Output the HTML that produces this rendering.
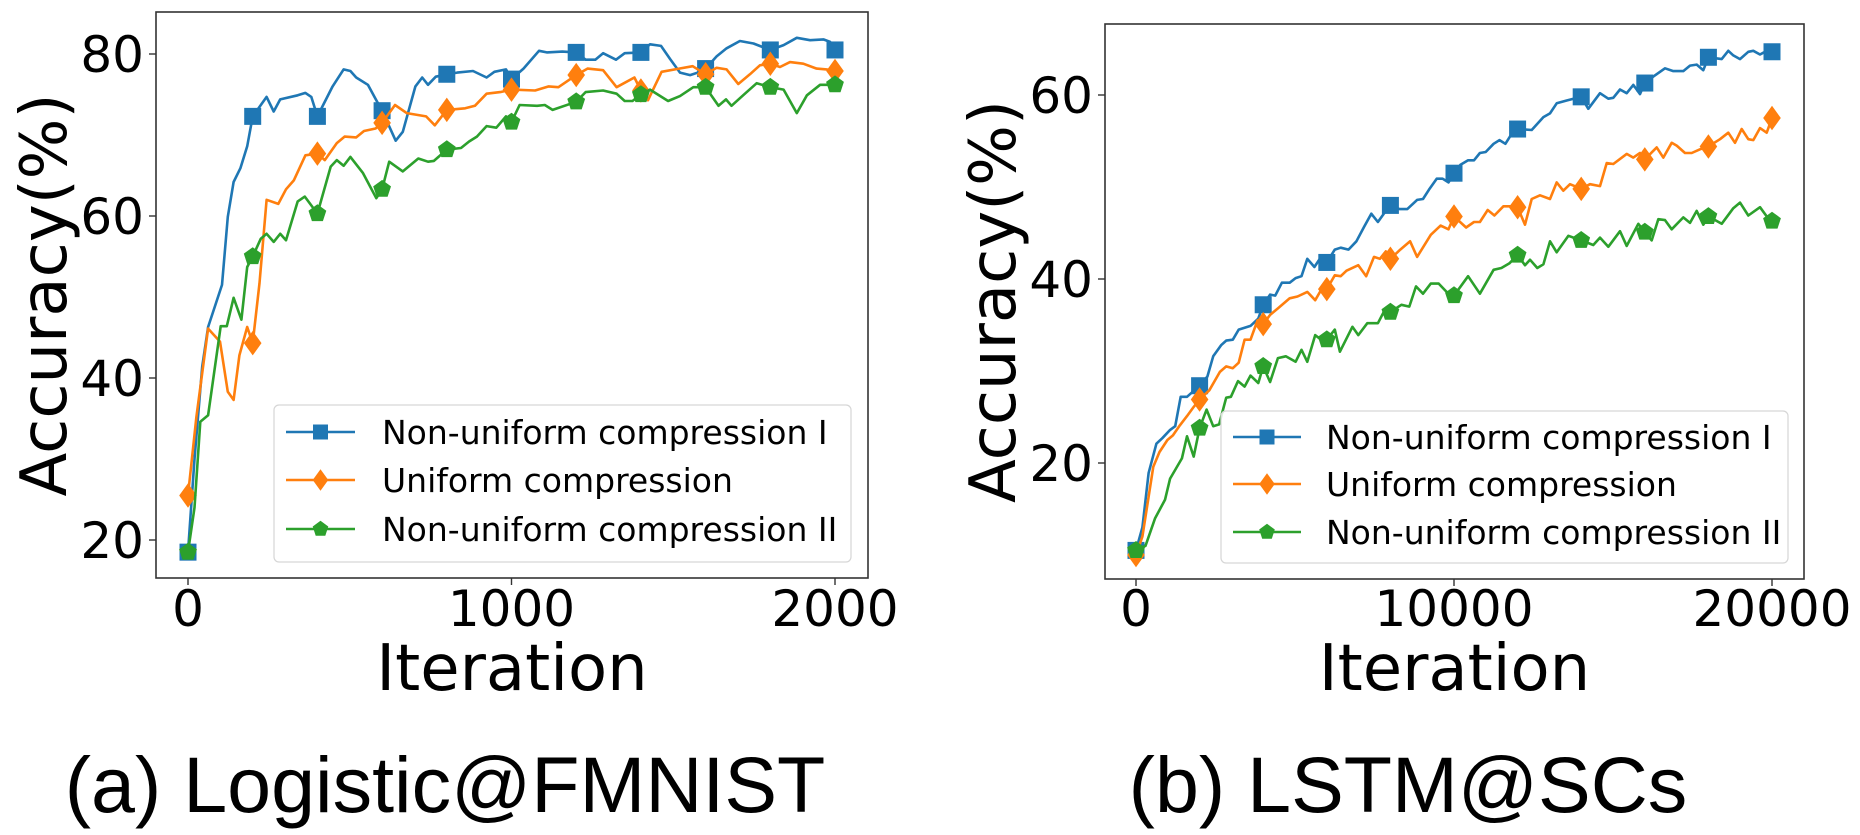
<!DOCTYPE html>
<html><head><meta charset="utf-8"><style>
html,body{margin:0;padding:0;background:#fff;width:1860px;height:835px;overflow:hidden}
svg text{font-family:"DejaVu Sans","Liberation Sans",sans-serif;fill:#000}
</style></head><body>
<svg id="fig" width="1860" height="835" viewBox="0 0 1860 835" xmlns="http://www.w3.org/2000/svg">
<text x="445" y="812" font-size="79" text-anchor="middle" style="font-family:'Liberation Sans',sans-serif">(a) Logistic@FMNIST</text>
<text x="1408" y="812" font-size="79" text-anchor="middle" style="font-family:'Liberation Sans',sans-serif">(b) LSTM@SCs</text>
</svg>
<script>
// ---- Left chart data (Logistic@FMNIST) ----
const leftXTicks = [0, 1000, 2000];
const leftYTicks = [20, 40, 60, 80];
const leftBlue = [[0,18.5],[20,30],[44,41.4],[62,46.3],[105,51.5],[123,59.9],[141,64.2],[162,65.9],[183,68.6],[200,72.3],[243,74.7],[265,72.9],[285,74.4],[339,74.9],[363,75.2],[381,74.7],[400,72.3],[447,76],[481,78.1],[502,77.9],[520,77.1],[556,76.2],[582,74.3],[600,73],[642,69.3],[664,70.4],[703,76],[724,77.1],[742,76.2],[766,77.2],[800,77.5],[832,77.7],[881,77.9],[923,77.1],[947,77.8],[983,78.1],[1000,76.9],[1037,78.2],[1085,80.4],[1109,80.2],[1157,80.3],[1200,80.2],[1229,79.3],[1259,79.3],[1283,80.1],[1323,79.3],[1350,80.1],[1400,80.2],[1428,81.2],[1462,81],[1490,79.4],[1521,77.7],[1552,77.4],[1583,77.8],[1600,78.2],[1634,79.7],[1665,80.7],[1706,81.6],[1748,81.3],[1800,80.5],[1841,81.1],[1882,82],[1923,81.7],[1964,81.8],[1985,81.5],[2000,80.5]];
const leftOrange = [[0,25.5],[26,35.2],[62,46.1],[99,44.5],[123,38.3],[141,37.3],[159,42.8],[183,46.3],[200,44.3],[221,51.7],[243,62],[279,61.5],[303,63.3],[327,64.4],[363,67.5],[400,67.7],[423,66.9],[460,69],[484,69.8],[520,69.7],[544,70.5],[580,70.8],[600,71.5],[640,73.7],[676,72.7],[736,72.3],[763,71.2],[800,73.1],[857,73.3],[887,73.6],[923,75.1],[965,75.3],[1000,75.6],[1073,75.5],[1115,76],[1145,75.9],[1200,77.4],[1235,78.2],[1283,78],[1325,75.9],[1380,77.1],[1400,75.5],[1422,74.3],[1464,77.8],[1518,78.2],[1560,78.5],[1600,77.5],[1634,78.3],[1665,78.1],[1701,76.3],[1737,77.5],[1768,78.6],[1800,78.8],[1830,78.4],[1861,79],[1902,78.8],[1943,78.2],[1974,78.1],[2000,77.9]];
const leftGreen = [[0,18.5],[20,24],[38,34.6],[62,35.4],[101,46.4],[120,46.4],[141,49.9],[165,47.2],[183,53.7],[200,55],[225,57.2],[243,57.8],[265,56.8],[285,57.8],[303,57],[339,61.8],[361,62.4],[400,60.3],[441,66.1],[460,66.9],[481,66.2],[502,67.3],[541,65.3],[582,62.2],[600,63.3],[622,66.7],[664,65.5],[712,67.1],[742,66.7],[760,66.8],[800,68.2],[844,68.4],[869,69.2],[893,69.8],[923,71.1],[953,70.9],[983,72.3],[1000,71.6],[1025,73.7],[1079,73.6],[1103,73.7],[1127,73.1],[1200,74.1],[1229,75.3],[1283,75.5],[1325,75.1],[1350,74.2],[1374,74.2],[1400,75],[1428,75.6],[1484,74.2],[1521,74.8],[1562,75.9],[1600,75.9],[1640,73.6],[1663,74.4],[1680,73.6],[1716,74.9],[1758,76.4],[1800,75.9],[1841,75.6],[1882,72.7],[1913,74.9],[1954,76.2],[2000,76.2]];
// ---- Right chart data (LSTM@SCs) ----
const rightXTicks = [0, 10000, 20000];
const rightYTicks = [20, 40, 60];
const rightBlue = [[0,10.5],[200,13],[395,18.9],[641,22.1],[826,22.7],[1073,23.6],[1233,24],[1406,27.2],[1603,27.2],[2000,28.4],[2244,29.4],[2429,31.6],[2676,32.8],[2836,33.3],[3045,33.4],[3230,34.5],[3600,34.9],[3847,35.7],[4000,37.2],[4217,38.3],[4377,38.2],[4587,39.6],[4833,39.6],[5018,40.1],[5203,40.3],[5388,42.2],[5610,41.3],[5820,42.4],[6000,41.8],[6251,43.2],[6436,43.4],[6683,43.2],[6930,44.1],[7176,45.7],[7398,47.1],[7608,46.2],[7793,47.1],[8000,48],[8286,47.6],[8532,47.6],[8840,48.6],[9025,48.7],[9211,49.7],[9457,50.9],[9642,50.9],[9827,50.5],[10000,51.5],[10197,52.4],[10444,52.9],[10629,52.9],[10813,53.7],[10998,53.8],[11245,54.7],[11430,55.1],[11615,54.7],[11800,55.7],[12000,56.3],[12443,56.2],[12810,57.6],[13019,58],[13229,59.1],[13543,59.4],[14000,59.8],[14224,58.5],[14591,60.2],[14853,59.6],[15010,59.7],[15220,60.6],[15430,60.2],[15639,61.1],[15849,60.1],[16000,61.3],[16268,62],[16635,62.9],[16897,62.6],[17212,62.6],[17421,63.2],[17631,63.3],[17841,62.7],[18000,64.1],[18417,63.9],[18627,64.8],[18784,64.3],[18994,63.9],[19256,64.7],[19413,64.8],[19623,64.4],[19780,64.7],[20000,64.7]];
const rightOrange = [[0,10],[200,12],[543,19.6],[740,21.2],[986,22.5],[1159,23],[1381,24.1],[1603,25.1],[1813,26.1],[2000,26.9],[2306,27.9],[2639,29.9],[2836,30.5],[3045,30.3],[3230,30.9],[3415,33.4],[3600,33.4],[3822,35.5],[4000,35.1],[4217,36.1],[4463,36.8],[4833,37.9],[5080,38.1],[5388,38.6],[5635,37.7],[5820,38.8],[6000,38.9],[6251,40.4],[6436,40.3],[6621,40.9],[6991,41.5],[7238,40.3],[7484,42.4],[7669,42.2],[7854,43],[8000,42.2],[8311,43.2],[8619,44.1],[8840,42.4],[9272,44.8],[9580,45.8],[9827,45.4],[10000,46.8],[10382,45.6],[10629,46.2],[10813,46.2],[11060,47.5],[11270,46.9],[11553,47.9],[11800,47.9],[12000,47.8],[12233,45.9],[12443,48.7],[12705,49.1],[13019,48.7],[13229,50.5],[13438,49.6],[13648,50.3],[14000,49.8],[14276,50.3],[14591,50.1],[14801,52.6],[15010,52.5],[15430,53.6],[15639,53.2],[15849,53.7],[16000,53],[16373,54.3],[16583,53.2],[16845,54.8],[17002,54.5],[17264,53.7],[17474,53.7],[17736,54.1],[18000,54.4],[18365,55.2],[18627,55.9],[18836,54.8],[19046,56.3],[19256,55.2],[19413,55.1],[19623,56.4],[19832,55.9],[20000,57.5]];
const rightGreen = [[0,10.5],[300,11],[600,14],[912,16],[1073,18.3],[1258,19.4],[1443,20.5],[1603,22.9],[1813,20.7],[2000,23.8],[2219,25.8],[2429,24],[2614,24.2],[2836,27.1],[2984,27.2],[3206,28.9],[3415,28.3],[3600,29.5],[3847,28.7],[4000,30.5],[4217,28.8],[4463,31.4],[4710,31.6],[5018,31],[5203,32.3],[5388,31],[5635,33.9],[5820,33.4],[6000,33.4],[6251,34.5],[6411,32.1],[6806,34.8],[6991,33.9],[7275,35.2],[7608,35.2],[7818,36.6],[8000,36.4],[8347,37.2],[8593,37],[8804,39.2],[9025,38.4],[9272,39.5],[9519,39.5],[9766,38.6],[10000,38.2],[10444,40.3],[10813,38.4],[11245,41],[11492,41.2],[11738,41.7],[12000,42.6],[12233,41.5],[12390,42.1],[12621,41.2],[12810,41.6],[13019,44.1],[13229,42.9],[13596,44.7],[14000,44.2],[14381,43.7],[14591,44.5],[14853,43.5],[15220,45.2],[15430,43.6],[15797,46],[16000,45.1],[16216,44.2],[16425,46.5],[16635,46.4],[16845,45.4],[17212,46.7],[17421,46.1],[17631,47.4],[17841,45.9],[18000,46.8],[18417,46],[18784,47.7],[18994,48.3],[19256,46.9],[19623,47.8],[19832,46.8],[20000,46.3]];
const legendLabels = ["Non-uniform compression I", "Uniform compression", "Non-uniform compression II"];

const NS = "http://www.w3.org/2000/svg";
const svg = document.getElementById("fig");
const COLORS = ["#1f77b4", "#ff7f0e", "#2ca02c"];
const SHAPES = ["square", "diamond", "pentagon"];

function mk(tag, attrs, parent) {
  const e = document.createElementNS(NS, tag);
  for (const k in attrs) e.setAttribute(k, attrs[k]);
  (parent || svg).appendChild(e);
  return e;
}
function marker(shape, cx, cy, color, s, parent) {
  let e;
  if (shape === "square") {
    e = mk("rect", {x: cx - s / 2, y: cy - s / 2, width: s, height: s, fill: color}, parent);
  } else if (shape === "diamond") {
    const r = s * 0.72;
    e = mk("polygon", {points: `${cx},${cy - r} ${cx + r * 0.72},${cy} ${cx},${cy + r} ${cx - r * 0.72},${cy}`, fill: color}, parent);
  } else {
    const r = s * 0.55, pts = [];
    for (let i = 0; i < 5; i++) { const a = -Math.PI / 2 + i * 2 * Math.PI / 5; pts.push((cx + r * Math.cos(a)).toFixed(1) + "," + (cy + r * Math.sin(a)).toFixed(1)); }
    e = mk("polygon", {points: pts.join(" "), fill: color}, parent);
  }
  return e;
}

function drawChart(cfg) {
  const g = mk("g", {});
  
  
  const sx = v => cfg.x0 + (v - cfg.xv0) * cfg.xk;
  const sy = v => cfg.y0 - (v - cfg.yv0) * cfg.yk;
  cfg.series.forEach((data, i) => {
    const sg = mk("g", {}, g);
    
    
    const p = mk("polyline", {points: data.map(d => sx(d[0]).toFixed(1) + "," + sy(d[1]).toFixed(1)).join(" "), fill: "none", stroke: COLORS[i], "stroke-width": 2.6, "stroke-linejoin": "round"}, sg);
    
    
    data.forEach(d => {
      if (d[0] % cfg.markEvery === 0) {
        const m = marker(SHAPES[i], sx(d[0]), sy(d[1]), COLORS[i], 17, sg);
        
        
      }
    });
  });
  const fr = mk("rect", {x: cfg.L, y: cfg.T, width: cfg.R - cfg.L, height: cfg.B - cfg.T, fill: "none", stroke: "#333", "stroke-width": 1.6}, g);
  
  
  cfg.xTicks.forEach(t => {
    const x = sx(t);
    mk("line", {x1: x, y1: cfg.B, x2: x, y2: cfg.B + 7, stroke: "#333", "stroke-width": 1.4}, g);
    const tx = mk("text", {x: x, y: 626, "font-size": 50, "text-anchor": "middle"}, g);
    tx.textContent = t;
    
    
  });
  cfg.yTicks.forEach(t => {
    const y = sy(t);
    mk("line", {x1: cfg.L - 7, y1: y, x2: cfg.L, y2: y, stroke: "#333", "stroke-width": 1.4}, g);
    const tx = mk("text", {x: cfg.L - 12, y: y + 18, "font-size": 50, "text-anchor": "end"}, g);
    tx.textContent = t;
    
    
  });
  const xl = mk("text", {x: (cfg.L + cfg.R) / 2, y: 690, "font-size": 64, "text-anchor": "middle"}, g);
  xl.textContent = "Iteration";
  
  
  const yc = (cfg.T + cfg.B) / 2;
  const yl = mk("text", {x: cfg.ylx, y: yc, "font-size": 64, "text-anchor": "middle", transform: `rotate(-90 ${cfg.ylx} ${yc})`}, g);
  yl.textContent = "Accuracy(%)";
  
  
  const lg = mk("g", {}, g);
  
  
  const L = cfg.legend;
  mk("rect", {x: L.x, y: L.y, width: L.w, height: L.h, rx: 5, fill: "#fff", "fill-opacity": 0.85, stroke: "#d6d6d6", "stroke-width": 1.2}, lg);
  legendLabels.forEach((lab, i) => {
    const ry = L.rows[i];
    const eg = mk("g", {}, lg);
    
    
    mk("line", {x1: L.lx1, y1: ry, x2: L.lx2, y2: ry, stroke: COLORS[i], "stroke-width": 2.6}, eg);
    marker(SHAPES[i], (L.lx1 + L.lx2) / 2, ry, COLORS[i], 15, eg);
    const t = mk("text", {x: L.tx, y: ry + 12, "font-size": 33}, eg);
    t.textContent = lab;
  });
}

drawChart({name: "chart-logistic-fmnist", prefix: "left", L: 156, T: 12, R: 868, B: 578,
  x0: 188, xv0: 0, xk: 0.3235, y0: 540, yv0: 20, yk: 8.1, markEvery: 200,
  xTicks: leftXTicks, yTicks: leftYTicks, series: [leftBlue, leftOrange, leftGreen], ylx: 66,
  legend: {x: 274, y: 405, w: 577, h: 157, rows: [432, 480, 529], lx1: 286, lx2: 355, tx: 382}});
drawChart({name: "chart-lstm-scs", prefix: "right", L: 1105, T: 24, R: 1804, B: 579,
  x0: 1136, xv0: 0, xk: 0.0318, y0: 463, yv0: 20, yk: 9.2, markEvery: 2000,
  xTicks: rightXTicks, yTicks: rightYTicks, series: [rightBlue, rightOrange, rightGreen], ylx: 1015,
  legend: {x: 1221, y: 411, w: 567, h: 152, rows: [437, 484, 532], lx1: 1233, lx2: 1301, tx: 1326}});
</script>
</body></html>
